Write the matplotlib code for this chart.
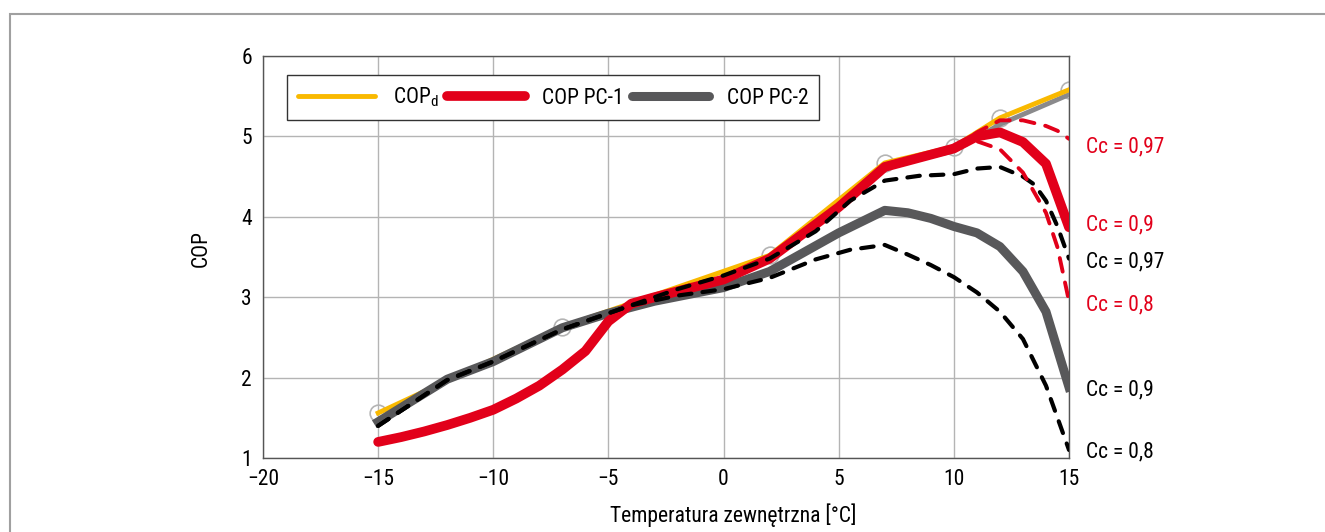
import matplotlib
matplotlib.use("Agg")
import matplotlib.pyplot as plt
from matplotlib.lines import Line2D
from matplotlib.patches import Rectangle
from matplotlib import font_manager

# Prefer a condensed sans face, fall back to DejaVu
names = {f.name for f in font_manager.fontManager.ttflist}
FONT = next((n for n in ("Roboto Condensed", "Archivo Narrow", "PT Sans Narrow", "Liberation Sans")
             if n in names), "DejaVu Sans")
plt.rcParams["font.family"] = [FONT, "DejaVu Sans"]
plt.rcParams["mathtext.fontset"] = "custom"
plt.rcParams["mathtext.rm"] = FONT
plt.rcParams["lines.scale_dashes"] = False

RED = "#e2001a"
GRAY = "#58585a"
YELLOW = "#f9b900"
FS = 15.5

# COP_d (design) points
cop_d_t = [-15, -7, 2, 7, 10, 12, 15]
cop_d = [1.56, 2.63, 3.52, 4.67, 4.87, 5.23, 5.58]

# thin gray line along COP_d at high temperatures
upper_t = [7, 10, 12, 15]
upper_cop = [4.62, 4.82, 5.15, 5.52]

# COP PC-1, Cc = 0.9
pc1_t = [-15, -14, -13, -12, -11, -10, -9, -8, -7, -6, -5, -4, -3, 0, 2, 5, 7, 10, 11, 12, 13, 14, 15]
pc1 = [1.2, 1.26, 1.33, 1.41, 1.5, 1.6, 1.74, 1.9, 2.1, 2.33, 2.7, 2.92, 3.0, 3.22, 3.48, 4.12, 4.62, 4.85, 5.0, 5.05, 4.93, 4.66, 3.87]

# COP PC-1, Cc = 0.97
pc1_097_t = [10, 11, 12, 13, 14, 14.5, 15]
pc1_097 = [4.85, 5.05, 5.2, 5.2, 5.13, 5.07, 4.97]

# COP PC-1, Cc = 0.8
pc1_08_t = [10, 11, 12, 13, 14, 14.5, 15]
pc1_08 = [4.85, 4.94, 4.84, 4.55, 4.05, 3.62, 2.95]

# COP PC-2, Cc = 0.9
pc2_t = [-15, -12, -10, -7, -5, -3, 0, 2, 5, 7, 8, 9, 10, 11, 12, 13, 14, 15]
pc2 = [1.45, 1.98, 2.2, 2.62, 2.8, 2.95, 3.12, 3.32, 3.8, 4.08, 4.05, 3.98, 3.88, 3.8, 3.63, 3.32, 2.82, 1.88]

# COP PC-2, Cc = 0.97
pc2_097_t = [-15, -12, -10, -7, -4, -2, 0, 2, 4, 5.5, 7, 8.5, 10, 11, 12, 13, 13.5, 14, 14.5, 15]
pc2_097 = [1.4, 1.97, 2.2, 2.6, 2.9, 3.1, 3.27, 3.48, 3.82, 4.2, 4.45, 4.51, 4.53, 4.6, 4.62, 4.5, 4.4, 4.2, 3.88, 3.48]

# COP PC-2, Cc = 0.8
pc2_08_t = [-15, -12, -10, -7, -4, -2, 0, 2, 4, 5.5, 7, 8, 9, 10, 11, 12, 13, 14, 14.5, 15]
pc2_08 = [1.4, 1.97, 2.2, 2.6, 2.9, 3.02, 3.1, 3.24, 3.47, 3.59, 3.65, 3.53, 3.4, 3.25, 3.06, 2.82, 2.48, 1.9, 1.5, 1.1]

# end-of-curve labels
end_labels = ["Cc = 0,97", "Cc = 0,9", "Cc = 0,8", "Cc = 0,97", "Cc = 0,9", "Cc = 0,8"]
end_label_y = [4.87, 3.9, 2.9, 3.44, 1.85, 1.08]
end_label_colors = [RED, RED, RED, "black", "black", "black"]

fig = plt.figure(figsize=(13.25, 5.32), dpi=100)
ax = fig.add_axes([263 / 1325, 1 - 458 / 532, 806 / 1325, 402 / 532])

# outer frame
fig.patches.append(Rectangle((10 / 1325, -0.1), 1.2, 1 - 14 / 532 + 0.1,
                             transform=fig.transFigure, fill=False,
                             edgecolor="#a0a0a0", linewidth=1.5))

ax.plot(cop_d_t, cop_d, linestyle="none", marker="o", markersize=12,
        markerfacecolor="none", markeredgecolor="#b4b4b4", markeredgewidth=1.2, zorder=2)
ax.plot(upper_t, upper_cop, color="#8a8a8c", linewidth=3.5, zorder=3)
ax.plot(cop_d_t, cop_d, color=YELLOW, linewidth=3.5, zorder=4)
ax.plot(pc2_t, pc2, color=GRAY, linewidth=6.5, zorder=5, solid_joinstyle="round")
ax.plot(pc1_t, pc1, color=RED, linewidth=7, zorder=6, solid_joinstyle="round",
        solid_capstyle="round")
ax.plot(pc2_097_t, pc2_097, color="black", linewidth=3, dashes=(9, 8),
        dash_capstyle="round", zorder=7)
ax.plot(pc2_08_t, pc2_08, color="black", linewidth=3, dashes=(9, 8),
        dash_capstyle="round", zorder=7)
ax.plot(pc1_097_t, pc1_097, color=RED, linewidth=2.8, dashes=(10, 8),
        dash_capstyle="round", zorder=8)
ax.plot(pc1_08_t, pc1_08, color=RED, linewidth=2.8, dashes=(10, 8),
        dash_capstyle="round", zorder=8)

for text, y, c in zip(end_labels, end_label_y, end_label_colors):
    ax.text(15.75, y, text, color=c, fontsize=FS, va="center", ha="left", clip_on=False)

ax.set_xlim(-20, 15)
ax.set_ylim(1, 6)
ax.set_xticks(range(-20, 16, 5))
ax.set_yticks(range(1, 7))
ax.grid(True, color="#b4b4b4", linewidth=1)
ax.set_axisbelow(True)
ax.tick_params(length=0, labelsize=FS, pad=8)
for sp in ax.spines.values():
    sp.set_color("#555555")
    sp.set_linewidth(1)

# x label sits over the -15..15 data span rather than the full axis
ax.set_xlabel("Temperatura zewnętrzna [°C]", fontsize=FS)
ax.xaxis.set_label_coords(0.583, -0.112)
ax.set_ylabel("COP", fontsize=FS)
ax.yaxis.set_label_coords(-0.064, 0.52)

handles = [
    Line2D([], [], color=YELLOW, linewidth=3.5, solid_capstyle="round"),
    Line2D([], [], color=RED, linewidth=7, solid_capstyle="round"),
    Line2D([], [], color=GRAY, linewidth=6.5, solid_capstyle="round"),
]
leg = ax.legend(handles, [r"COP$_\mathrm{d}$", "COP PC-1", "COP PC-2"], ncol=3,
                loc="upper left", bbox_to_anchor=(0.03, 0.953), borderaxespad=0,
                fontsize=FS, handlelength=3.6, handletextpad=0.8, columnspacing=0.4,
                fancybox=False, framealpha=1, edgecolor="#333333", borderpad=0.5)
leg.get_frame().set_linewidth(1)

fig.savefig("out.png", dpi=100)
